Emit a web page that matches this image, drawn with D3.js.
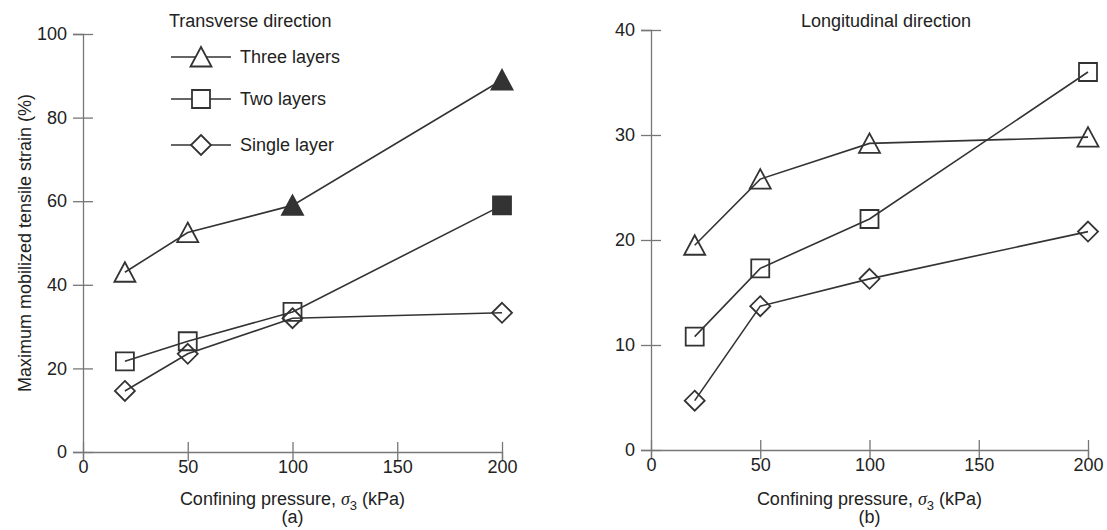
<!DOCTYPE html>
<html>
<head>
<meta charset="utf-8">
<script src="https://cdn.jsdelivr.net/npm/d3@7"></script>
<style>
  html, body { margin: 0; padding: 0; background: #fff; }
  svg { display: block; font-family: "Liberation Sans", Arial, sans-serif; }
</style>
</head>
<body>
<svg id="chart" width="1107" height="530"></svg>
<script>
// Confining pressure levels (kPa)
const pressures = [20, 50, 100, 200];
const xTicks = [0, 50, 100, 150, 200];

// Maximum mobilized tensile strain (%), transverse direction
const transThree = [43, 52.5, 59, 89];
const transTwo = [21.7, 26.5, 33.5, 59];
const transSingle = [14.6, 23.5, 32, 33.3];
const transTicks = [0, 20, 40, 60, 80, 100];

// Maximum mobilized tensile strain (%), longitudinal direction
const longThree = [19.5, 25.8, 29.2, 29.8];
const longTwo = [10.8, 17.3, 22, 36];
const longSingle = [4.7, 13.7, 16.3, 20.8];
const longTicks = [0, 10, 20, 30, 40];

const seriesNames = ["Three layers", "Two layers", "Single layer"];
const seriesShapes = ["triangle", "square", "diamond"];

const INK = "#333";
const AXIS = "#777";
const svg = d3.select("#chart");

// marker outlines, centred on the data point
function shapePath(kind) {
  if (kind === "triangle") return "M0,-10L10.5,9.5L-10.5,9.5Z";
  if (kind === "square") return "M-9,-9H9V9H-9Z";
  return "M0,-10L10,0L0,10L-10,0Z";
}

function drawPanel(opt) {
  const x = d3.scaleLinear().domain([0, 200]).range(opt.xRange);
  const y = d3.scaleLinear().domain(opt.yDomain).range(opt.yRange);
  const g = svg.append("g");

  // y axis
  const ya = g.append("g")
    .attr("transform", `translate(${opt.xRange[0]},0)`)
    .call(d3.axisLeft(y).tickValues(opt.yTicks).tickSizeOuter(0).tickSize(10).tickPadding(6));
  ya.select(".domain").attr("stroke", AXIS).attr("stroke-width", 1.3);
  ya.selectAll(".tick line").attr("x1", -10).attr("x2", 10).attr("stroke", AXIS).attr("stroke-width", 1.3);
  ya.selectAll(".tick text").attr("font-size", 18).attr("fill", "#222")
    .attr("font-family", "Liberation Sans, Arial, sans-serif");

  // x axis
  const xa = g.append("g")
    .attr("transform", `translate(0,${opt.yRange[0]})`)
    .call(d3.axisBottom(x).tickValues(xTicks).tickSizeOuter(0).tickSize(9));
  xa.select(".domain").attr("stroke", AXIS).attr("stroke-width", 1.3);
  xa.selectAll(".tick line").attr("y1", -10).attr("y2", 9).attr("stroke", AXIS).attr("stroke-width", 1.3);
  xa.selectAll(".tick text").attr("font-size", 18).attr("fill", "#222")
    .attr("y", 21).attr("dy", 0)
    .attr("font-family", "Liberation Sans, Arial, sans-serif");

  // axis title with italic sigma and subscript
  const cx = x(100);
  const t = g.append("text").attr("x", cx).attr("y", 504.5)
    .attr("text-anchor", "middle").attr("font-size", 18).attr("fill", "#222");
  t.append("tspan").text("Confining pressure, ");
  t.append("tspan").text("σ").attr("font-style", "italic")
    .attr("font-family", "Liberation Serif, Times New Roman, serif");
  t.append("tspan").text("3").attr("font-size", 13).attr("dy", 5);
  t.append("tspan").text(" (kPa)").attr("dy", -5);

  g.append("text").attr("x", cx).attr("y", 523)
    .attr("text-anchor", "middle").attr("font-size", 18).attr("fill", "#222")
    .text(opt.panelTag);

  // panel title
  g.append("text").attr("x", opt.titleX).attr("y", 27)
    .attr("text-anchor", opt.titleAnchor).attr("font-size", 18).attr("fill", "#222")
    .text(opt.title);

  // series lines and markers
  const line = d3.line().x(d => x(d.p)).y(d => y(d.v));
  opt.series.forEach((vals, i) => {
    const pts = pressures.map((p, j) => ({ p, v: vals[j] }));
    g.append("path").datum(pts).attr("d", line)
      .attr("fill", "none").attr("stroke", INK).attr("stroke-width", 1.6);
    const filled = opt.filled[i] || [];
    g.selectAll(null).data(pts).enter().append("path")
      .attr("d", shapePath(seriesShapes[i]))
      .attr("transform", d => `translate(${x(d.p)},${y(d.v)})`)
      .attr("fill", d => filled.includes(d.p) ? INK : "none")
      .attr("stroke", INK).attr("stroke-width", 1.8).attr("stroke-linejoin", "miter");
  });
  return { x, y, g };
}

// (a) transverse direction
const left = drawPanel({
  xRange: [83, 502], yRange: [452, 34], yDomain: [0, 100], yTicks: transTicks,
  series: [transThree, transTwo, transSingle],
  filled: [[100, 200], [200], []],
  title: "Transverse direction", titleX: 169, titleAnchor: "start",
  panelTag: "(a)"
});

// (b) longitudinal direction
drawPanel({
  xRange: [651, 1088], yRange: [450, 30], yDomain: [0, 40], yTicks: longTicks,
  series: [longThree, longTwo, longSingle],
  filled: [[], [], []],
  title: "Longitudinal direction", titleX: 886, titleAnchor: "middle",
  panelTag: "(b)"
});

// y axis title (shared)
svg.append("text")
  .attr("transform", "translate(31,243) rotate(-90)")
  .attr("text-anchor", "middle").attr("font-size", 18).attr("fill", "#222")
  .text("Maximum mobilized tensile strain (%)");

// legend
const legendRows = [57, 99, 145];
const legend = svg.append("g");
seriesNames.forEach((name, i) => {
  const ly = legendRows[i];
  legend.append("line").attr("x1", 171).attr("x2", 231).attr("y1", ly).attr("y2", ly)
    .attr("stroke", INK).attr("stroke-width", 1.6);
  legend.append("path").attr("d", shapePath(seriesShapes[i]))
    .attr("transform", `translate(201,${ly})`)
    .attr("fill", "#fff").attr("stroke", INK).attr("stroke-width", 1.8);
  legend.append("text").attr("x", 240).attr("y", ly + 5.5)
    .attr("font-size", 18).attr("fill", "#222").text(name);
});
</script>
</body>
</html>
